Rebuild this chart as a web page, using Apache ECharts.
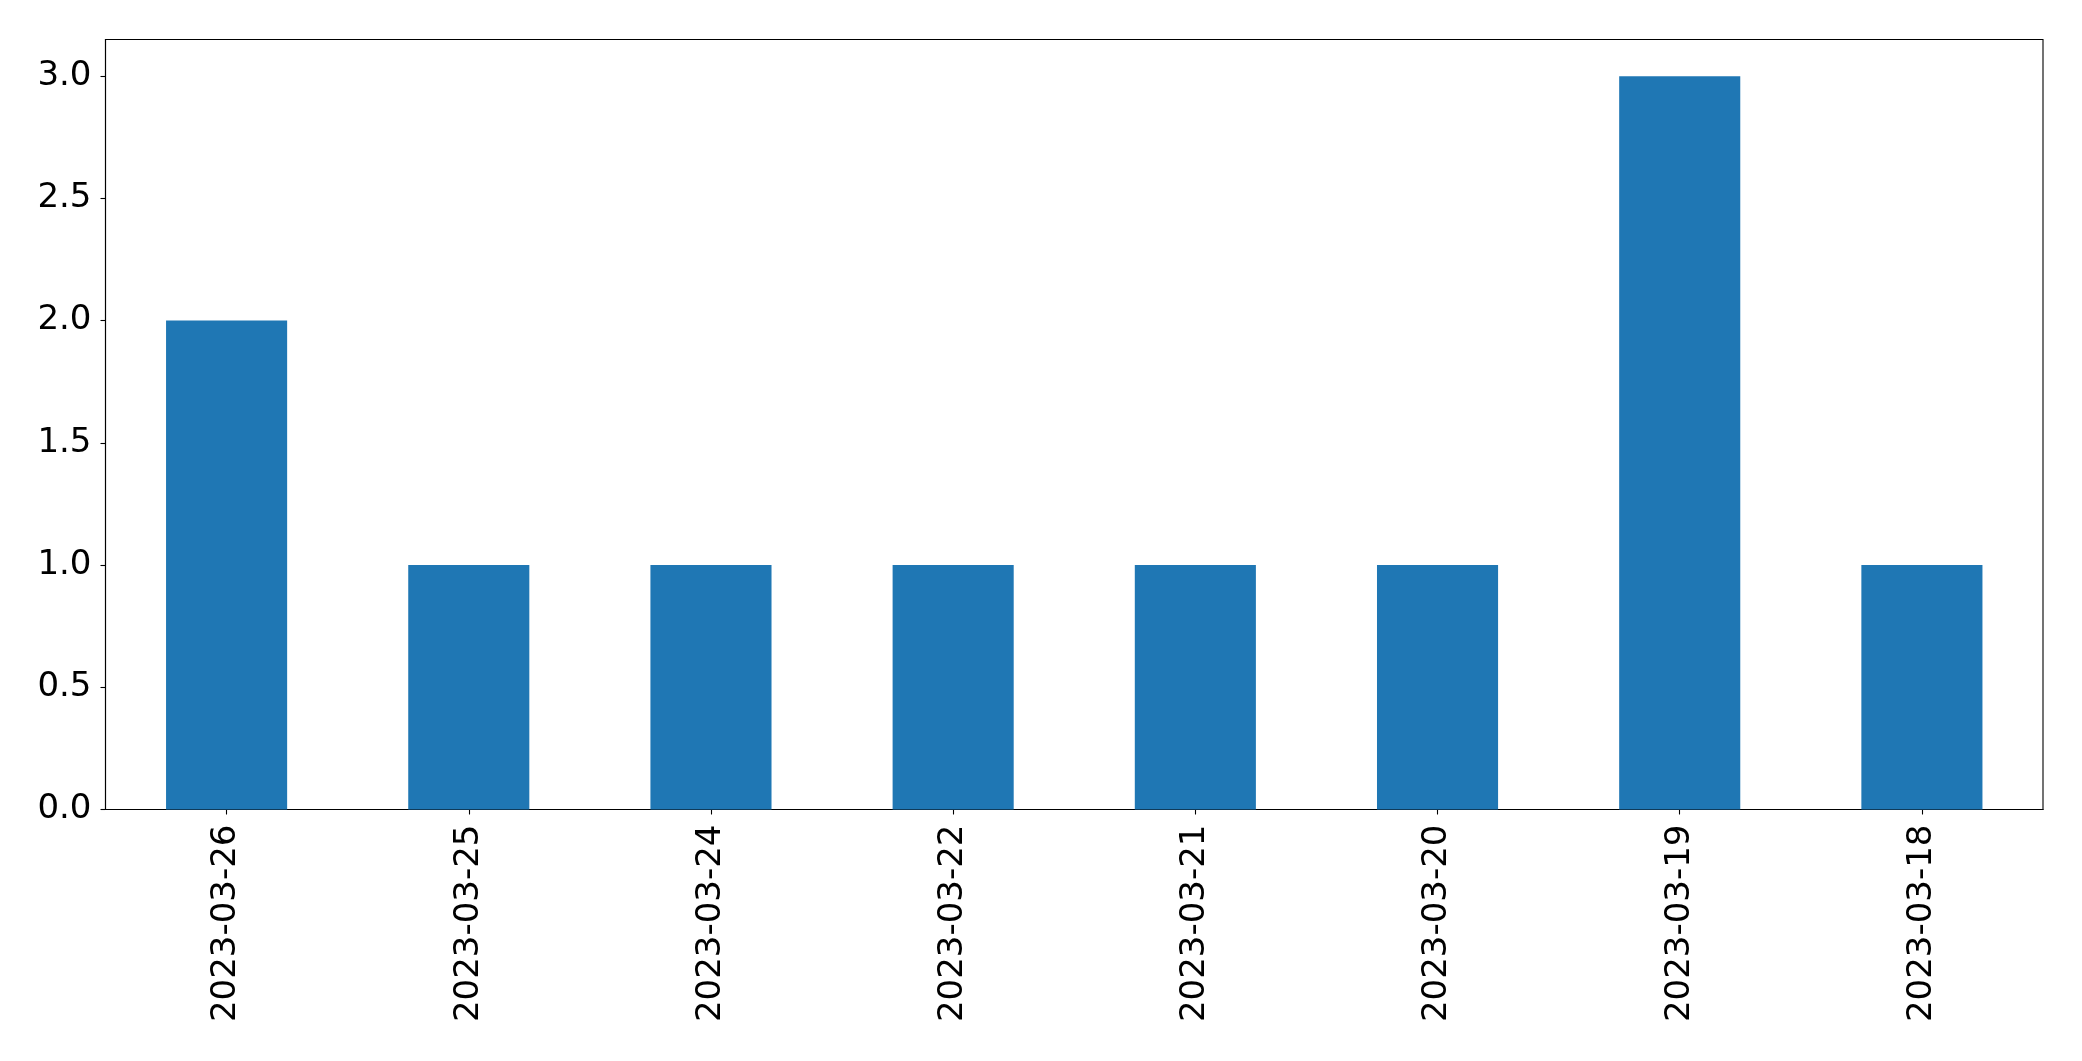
<!DOCTYPE html>
<html>
<head>
<meta charset="utf-8">
<script src="https://cdn.jsdelivr.net/npm/echarts@6/dist/echarts.min.js"></script>
<style>
html,body{margin:0;padding:0;background:#fff;}
#chart{width:2082px;height:1061px;}
</style>
</head>
<body>
<div id="chart"></div>
<script>
const categories = ['2023-03-26','2023-03-25','2023-03-24','2023-03-22','2023-03-21','2023-03-20','2023-03-19','2023-03-18'];
const counts = [2, 1, 1, 1, 1, 1, 3, 1];
const yTicks = [0, 0.5, 1, 1.5, 2, 2.5, 3];

const chart = echarts.init(document.getElementById('chart'), null, {renderer: 'canvas'});
const font = 'DejaVu Sans';
chart.setOption({
  animation: false,
  backgroundColor: '#ffffff',
  grid: {
    left: 105.5, right: 39, top: 39.5, bottom: 251.5,
    show: true, borderColor: '#000000', borderWidth: 1.1, backgroundColor: 'transparent'
  },
  xAxis: {
    type: 'category',
    data: categories,
    boundaryGap: true,
    axisLine: {show: true, lineStyle: {color: '#000', width: 1.1}},
    axisTick: {show: true, alignWithLabel: true, length: 5, lineStyle: {color: '#000', width: 1.1}},
    axisLabel: {rotate: 90, margin: 15, color: '#000', fontFamily: font, fontSize: 34, interval: 0},
    splitLine: {show: false}
  },
  yAxis: {
    type: 'value',
    min: 0, max: 3.15,
    axisLine: {show: true, lineStyle: {color: '#000', width: 1.1}},
    axisTick: {show: true, length: 5, customValues: yTicks, lineStyle: {color: '#000', width: 1.1}},
    axisLabel: {
      margin: 14, color: '#000', fontFamily: font, fontSize: 34,
      customValues: yTicks,
      formatter: v => v.toFixed(1)
    },
    splitLine: {show: false}
  },
  series: [{
    type: 'bar',
    data: counts,
    barWidth: '50%',
    itemStyle: {color: '#1f77b4'}
  }]
});
</script>
</body>
</html>
